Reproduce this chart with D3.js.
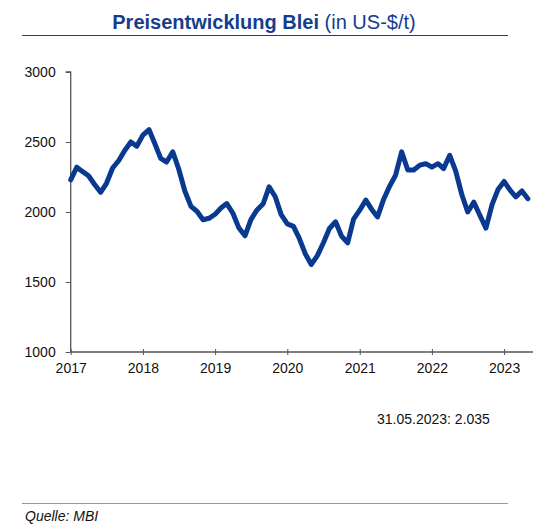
<!DOCTYPE html>
<html>
<head>
<meta charset="utf-8">
<script src="https://cdn.jsdelivr.net/npm/d3@7"></script>
<style>
  body { margin: 0; background: #fff; }
  svg { font-family: "Liberation Sans", Arial, sans-serif; }
</style>
</head>
<body>
<svg width="556" height="530"></svg>
<script>
// Bleipreis, Monatswerte Jan 2017 - Mai 2023 (US-$/t)
var startMonth = new Date(2017, 0, 1);
var prices = [
    2230, 2320, 2290, 2259, 2198, 2141, 2205, 2314, 2368, 2439, 2500, 2470,
    2549, 2588, 2493, 2383, 2357, 2430, 2307, 2150, 2040, 2005, 1945, 1955,
    1984, 2030, 2060, 1991, 1887, 1830, 1946, 2015, 2059, 2180, 2109, 1981,
    1915, 1897, 1813, 1701, 1625, 1688, 1779, 1882, 1930, 1828, 1780, 1949,
    2013, 2085, 2022, 1965, 2087, 2184, 2262, 2430, 2300, 2300, 2335, 2345,
    2320, 2345, 2310, 2405, 2294, 2125, 2000, 2070, 1975, 1885, 2053, 2160,
    2218, 2154, 2108, 2150, 2095
];
var yTicks = [1000, 1500, 2000, 2500, 3000];
var xTickYears = [2017, 2018, 2019, 2020, 2021, 2022, 2023];
var lastQuote = "31.05.2023: 2.035";
var source = "Quelle: MBI";

var data = prices.map(function (v, i) {
    return { date: d3.timeMonth.offset(startMonth, i), value: v };
});

var svg = d3.select("svg");
var blue = "#0a3a8f";

var x = d3.scaleTime()
    .domain([new Date(2017, 0, 1), new Date(2023, 4, 27)])
    .range([70.7, 533]);

var y = d3.scaleLinear()
    .domain([1000, 3000])
    .range([352, 72]);

// title
var title = svg.append("text")
    .attr("x", 264)
    .attr("y", 29)
    .attr("text-anchor", "middle")
    .attr("fill", "#163d8c")
    .style("font-size", "20px");
title.append("tspan").attr("font-weight", "bold").text("Preisentwicklung Blei");
title.append("tspan").text(" (in US-$/t)");

svg.append("line")
    .attr("x1", 22).attr("x2", 508)
    .attr("y1", 35.5).attr("y2", 35.5)
    .attr("stroke", "#1f3f7a")
    .attr("stroke-width", 1);

// y axis
var yAxis = svg.append("g")
    .attr("transform", "translate(" + x.range()[0] + ",0)")
    .call(d3.axisLeft(y).tickValues(yTicks).tickSize(5).tickPadding(10).tickFormat(d3.format("d")));

// x axis
var xAxis = svg.append("g")
    .attr("transform", "translate(0," + y(1000) + ")")
    .call(d3.axisBottom(x)
        .tickValues(xTickYears.map(function (yr) { return new Date(yr, 0, 1); }))
        .tickSize(3).tickPadding(8)
        .tickFormat(d3.timeFormat("%Y")));

xAxis.selectAll(".tick line").attr("y1", -3);

[yAxis, xAxis].forEach(function (ax) {
    ax.select(".domain").attr("stroke", "#555").attr("stroke-width", 1.3);
    ax.selectAll(".tick line").attr("stroke", "#555");
    ax.selectAll(".tick text")
        .attr("fill", "#111")
        .style("font-size", "14px")
        .style("font-family", "Liberation Sans, Arial, sans-serif");
});
yAxis.select(".domain").attr("d", "M-5," + y(3000) + "H0V" + y(1000));
xAxis.select(".domain").attr("d", "M" + x.range()[0] + ",0H" + x.range()[1]);

// line
var line = d3.line()
    .x(function (d) { return x(d.date); })
    .y(function (d) { return y(d.value); });

svg.append("path")
    .datum(data)
    .attr("d", line)
    .attr("fill", "none")
    .attr("stroke", blue)
    .attr("stroke-width", 5)
    .attr("stroke-linejoin", "round")
    .attr("stroke-linecap", "round");

svg.append("text")
    .attr("x", 377)
    .attr("y", 424)
    .attr("fill", "#111")
    .style("font-size", "14px")
    .text(lastQuote);

svg.append("line")
    .attr("x1", 22).attr("x2", 508)
    .attr("y1", 503.5).attr("y2", 503.5)
    .attr("stroke", "#999")
    .attr("stroke-width", 1);

svg.append("text")
    .attr("x", 25)
    .attr("y", 521)
    .attr("fill", "#111")
    .style("font-size", "14px")
    .style("font-style", "italic")
    .text(source);
</script>
</body>
</html>
